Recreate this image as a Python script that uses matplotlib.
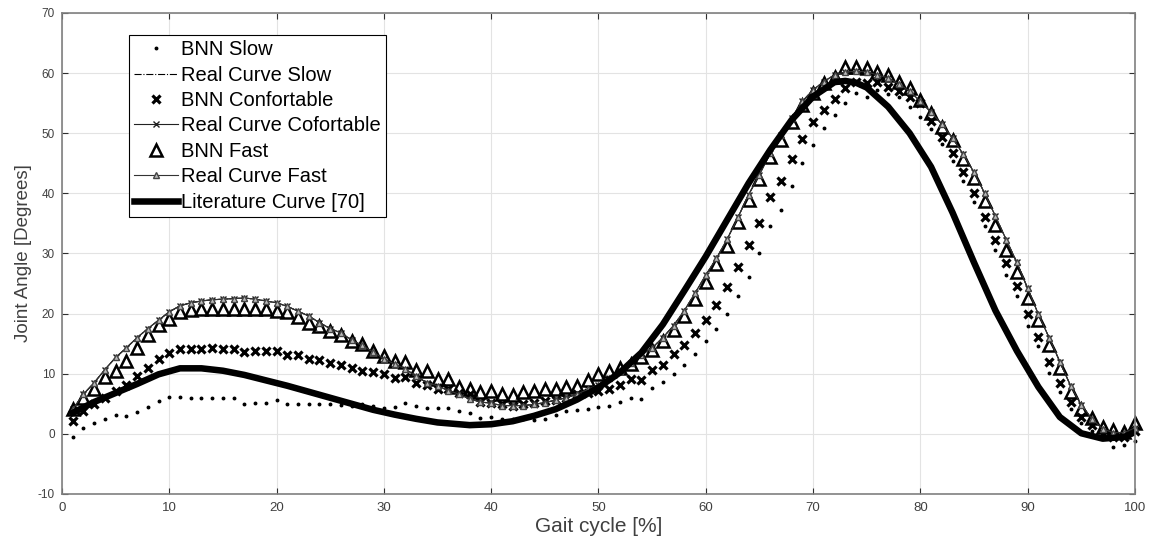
import numpy as np
import matplotlib
matplotlib.use("Agg")
import matplotlib.pyplot as plt

plt.rcParams['font.family'] = ['Liberation Sans', 'DejaVu Sans']
plt.rcParams['axes.unicode_minus'] = False

# Gait cycle samples (percent)
gait = np.arange(1, 101)

# Knee joint angle, network output at three walking speeds
bnn_slow = [-0.6, 1.0, 1.8, 2.5, 3.1, 3.0, 3.6, 4.5, 5.4, 6.1,
            6.2, 5.9, 5.9, 6.0, 5.9, 6.0, 4.9, 5.2, 5.1, 5.6,
            4.9, 4.9, 4.9, 4.9, 5.0, 4.8, 4.7, 4.9, 4.6, 4.3,
            4.5, 5.1, 4.7, 4.3, 4.3, 4.3, 3.8, 3.5, 2.7, 2.8,
            2.5, 2.4, 2.4, 2.3, 2.4, 3.1, 3.8, 4.0, 4.1, 4.5,
            4.7, 5.3, 6.0, 5.8, 7.7, 8.6, 10.0, 11.5, 13.2, 15.5,
            17.5, 20.0, 23.0, 26.1, 30.0, 34.5, 37.3, 41.3, 45.0, 48.1,
            50.8, 53.1, 55.0, 56.7, 56.0, 57.2, 56.5, 56.0, 54.4, 52.7,
            50.7, 48.2, 45.4, 42.0, 38.5, 34.6, 30.5, 26.4, 23.0, 17.9,
            14.6, 10.2, 7.0, 4.1, 1.8, 0.5, -0.5, -2.2, -1.9, -1.2]

bnn_comf = [2.1, 3.8, 5.0, 6.0, 7.2, 8.2, 9.6, 11.0, 12.4, 13.5,
            14.1, 14.1, 14.1, 14.3, 14.1, 14.1, 13.6, 13.8, 13.8, 13.8,
            13.1, 13.1, 12.4, 12.3, 11.8, 11.5, 11.0, 10.4, 10.3, 9.9,
            9.3, 9.4, 8.5, 8.2, 7.4, 7.4, 6.8, 6.6, 5.3, 5.2,
            4.9, 4.6, 4.9, 5.2, 5.5, 5.7, 6.0, 6.6, 6.8, 7.1,
            7.5, 8.2, 9.1, 8.9, 10.7, 11.5, 13.3, 14.7, 16.7, 19.0,
            21.5, 24.5, 27.7, 31.4, 35.0, 39.4, 42.0, 45.7, 49.0, 51.8,
            53.8, 55.7, 57.5, 58.6, 58.3, 58.5, 57.7, 57.0, 56.0, 55.0,
            52.0, 49.4, 46.7, 43.5, 40.0, 36.0, 32.3, 28.4, 24.6, 19.9,
            16.1, 12.0, 8.5, 5.3, 2.8, 1.5, 0.0, -0.5, -0.5, 0.5]

bnn_fast = [4.1, 6.0, 7.5, 9.4, 10.5, 12.1, 14.2, 16.4, 18.1, 19.1,
            20.2, 20.6, 20.7, 20.8, 20.7, 20.7, 20.7, 20.8, 20.8, 20.4,
            20.2, 19.4, 18.5, 17.9, 17.1, 16.4, 15.5, 14.9, 13.8, 13.0,
            12.2, 11.9, 10.7, 10.4, 9.2, 9.1, 7.8, 7.4, 7.0, 7.1,
            6.7, 6.4, 6.9, 7.2, 7.4, 7.4, 7.8, 7.9, 8.9, 9.9,
            10.4, 11.0, 11.6, 12.7, 14.0, 15.5, 17.3, 19.6, 22.5, 25.3,
            28.2, 31.3, 35.3, 38.9, 42.4, 46.1, 48.9, 51.8, 54.7, 56.7,
            58.3, 59.4, 61.0, 61.0, 60.8, 60.1, 59.7, 58.6, 57.5, 55.5,
            53.3, 51.0, 48.9, 45.7, 42.5, 38.8, 34.8, 30.6, 27.0, 22.6,
            18.9, 14.8, 10.9, 7.0, 4.1, 2.6, 1.2, 0.6, 0.3, 1.8]

# Measured (real) curve
real_curve = [4.1, 6.6, 8.5, 10.7, 12.7, 14.3, 16.0, 17.5, 18.9, 20.3,
              21.3, 21.8, 22.1, 22.3, 22.4, 22.5, 22.6, 22.4, 22.1, 21.8,
              21.2, 20.4, 19.6, 18.5, 17.5, 16.8, 15.6, 14.7, 13.6, 12.5,
              11.6, 10.8, 9.6, 8.5, 8.0, 7.2, 6.6, 5.8, 5.3, 5.1,
              4.7, 4.7, 4.7, 4.9, 5.2, 5.6, 6.0, 6.6, 7.4, 8.2,
              9.3, 10.4, 11.8, 13.1, 14.3, 16.0, 18.0, 20.5, 23.4, 26.4,
              29.2, 32.4, 36.0, 39.8, 43.1, 46.7, 49.7, 52.5, 55.3, 57.2,
              58.6, 59.7, 60.2, 60.3, 60.2, 59.7, 59.2, 58.2, 57.0, 55.3,
              53.5, 51.5, 49.2, 46.5, 43.5, 40.0, 36.2, 32.3, 28.5, 24.2,
              19.9, 16.0, 12.0, 8.0, 4.8, 2.5, 0.8, 0.2, 0.2, 1.0]

# Reference curve from the literature
lit_x = [1, 3, 5, 7, 9, 11, 13, 15, 17, 19, 21, 23, 25, 27, 29, 31, 33, 35,
         37, 38, 40, 42, 44, 46, 48, 50, 52, 54, 56, 58, 60, 62, 64, 66, 68,
         70, 72, 73, 74, 75, 77, 79, 81, 83, 85, 87, 89, 91, 93, 95, 97, 99, 100]
lit_y = [3.5, 5.3, 6.8, 8.3, 9.9, 10.9, 10.9, 10.5, 9.8, 8.9, 8.0, 7.0, 6.0,
         5.0, 4.0, 3.2, 2.5, 1.9, 1.6, 1.45, 1.6, 2.1, 3.0, 4.1, 5.7, 7.7,
         10.2, 13.5, 18.2, 23.8, 29.5, 35.6, 41.7, 47.2, 52.2, 56.1, 58.5,
         58.7, 58.4, 57.6, 54.4, 50.0, 44.4, 36.8, 28.5, 20.5, 13.8, 7.8,
         2.8, 0.1, -0.8, -0.5, 0.3]

fig = plt.figure(figsize=(11.52, 5.45), dpi=100)
ax = fig.add_axes([0.0538, 0.0936, 0.9314, 0.8826])

ax.plot(gait, bnn_slow, linestyle='none', marker='o', ms=1.8, color='black',
        label='BNN Slow', clip_on=False)
ax.plot(gait, real_curve, linestyle='-.', lw=0.8, color='black',
        label='Real Curve Slow', clip_on=False)
ax.plot(gait, bnn_comf, linestyle='none', marker='x', ms=5.3, mew=2.3,
        color='black', label='BNN Confortable', clip_on=False)
ax.plot(gait, real_curve, linestyle='-', lw=0.8, color='#222222', marker='x',
        ms=4, mew=1, label='Real Curve Cofortable', clip_on=False)
ax.plot(gait, bnn_fast, linestyle='none', marker='^', ms=8.5, mew=1.8,
        mfc='none', mec='black', color='black', label='BNN Fast',
        clip_on=False)
ax.plot(gait, real_curve, linestyle='-', lw=0.8, color='#333333', marker='^',
        ms=5, mew=1, mfc='#bbbbbb', mec='#444444', label='Real Curve Fast',
        clip_on=False)
ax.plot(lit_x, lit_y, linestyle='-', lw=4.7, color='black',
        label='Literature Curve [70]')

ax.set_xlim(0, 100)
ax.set_ylim(-10, 70)
ax.set_xticks(np.arange(0, 101, 10))
ax.set_yticks(np.arange(-10, 71, 10))
ax.grid(True, color='#e3e3e3', lw=0.8)
ax.set_axisbelow(True)
for s in ax.spines.values():
    s.set_color('#808080')
    s.set_linewidth(1.2)
ax.tick_params(direction='in', top=True, right=True, length=4, width=0.8,
               color='#303030', labelcolor='#404040')
ax.tick_params(axis='x', labelsize=9.5, pad=6)
ax.tick_params(axis='y', labelsize=8.5, pad=5)

ax.set_xlabel('Gait cycle [%]', fontsize=15, color='#404040', labelpad=2)
ax.set_ylabel('Joint Angle [Degrees]', fontsize=13.5, color='#404040',
              labelpad=4)

leg = ax.legend(loc='upper left', bbox_to_anchor=(0.0624, 0.954),
                borderaxespad=0, fontsize=14.5, frameon=True, fancybox=False,
                edgecolor='black', framealpha=1, labelspacing=0.32,
                handlelength=2.2, handletextpad=0.15, borderpad=0.25)
leg.get_frame().set_linewidth(0.8)

fig.savefig('out.png', dpi=100)
